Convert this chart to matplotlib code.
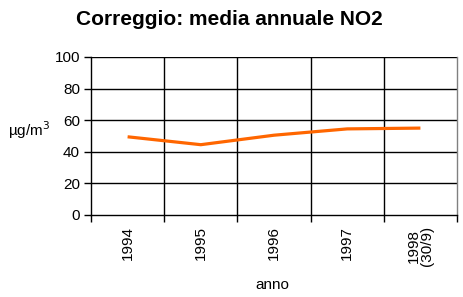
import matplotlib
matplotlib.use('Agg')
import matplotlib.pyplot as plt

plt.rcParams['font.family'] = ['Liberation Sans', 'DejaVu Sans']
plt.rcParams['font.size'] = 11

# dati
anni = ['1994', '1995', '1996', '1997', '1998\n(30/9)']
no2 = [49.5, 44.5, 50.5, 54.5, 55.0]

fig = plt.figure(figsize=(4.64, 2.97), dpi=100)
ax = fig.add_axes([91 / 464, 1 - 215 / 297, 366 / 464, 158 / 297])

x = list(range(len(anni)))
ax.plot(x, no2, color='#FF6600', linewidth=2.3, solid_capstyle='butt')

ax.set_xlim(-0.5, len(anni) - 0.5)
ax.set_ylim(0, 100)
ax.set_yticks([0, 20, 40, 60, 80, 100])

# griglia: linee orizzontali e separatori verticali tra le categorie
for v in [20, 40, 60, 80, 100]:
    ax.axhline(v, color='black', linewidth=1, zorder=0)
for b in [0.5, 1.5, 2.5, 3.5]:
    ax.axvline(b, color='black', linewidth=1, zorder=0)

ax.set_xticks(x)
ax.set_xticklabels(anni, rotation=90, va='top', ha='center', linespacing=1.0)
ax.set_xticks([-0.5, 0.5, 1.5, 2.5, 3.5, 4.5], minor=True)
ax.tick_params(axis='x', which='major', length=0, pad=8)
ax.tick_params(axis='x', which='minor', length=5, width=1, direction='out')
ax.tick_params(axis='y', length=5, width=1, direction='out', pad=3)

for s in ['left', 'bottom']:
    ax.spines[s].set_color('black')
    ax.spines[s].set_linewidth(1)
ax.spines['top'].set_visible(False)
ax.spines['right'].set_color('#808080')
ax.spines['right'].set_linewidth(1)

fig.text(0.495, 0.935, 'Correggio: media annuale NO2', ha='center', va='center',
         fontsize=15, fontweight='bold')
fig.text(8 / 464, 1 - 130 / 297, 'µg/m$^3$', ha='left', va='center', fontsize=11)
fig.text(272 / 464, 1 - 285 / 297, 'anno', ha='center', va='center', fontsize=11)

fig.savefig('out.png', dpi=100)
